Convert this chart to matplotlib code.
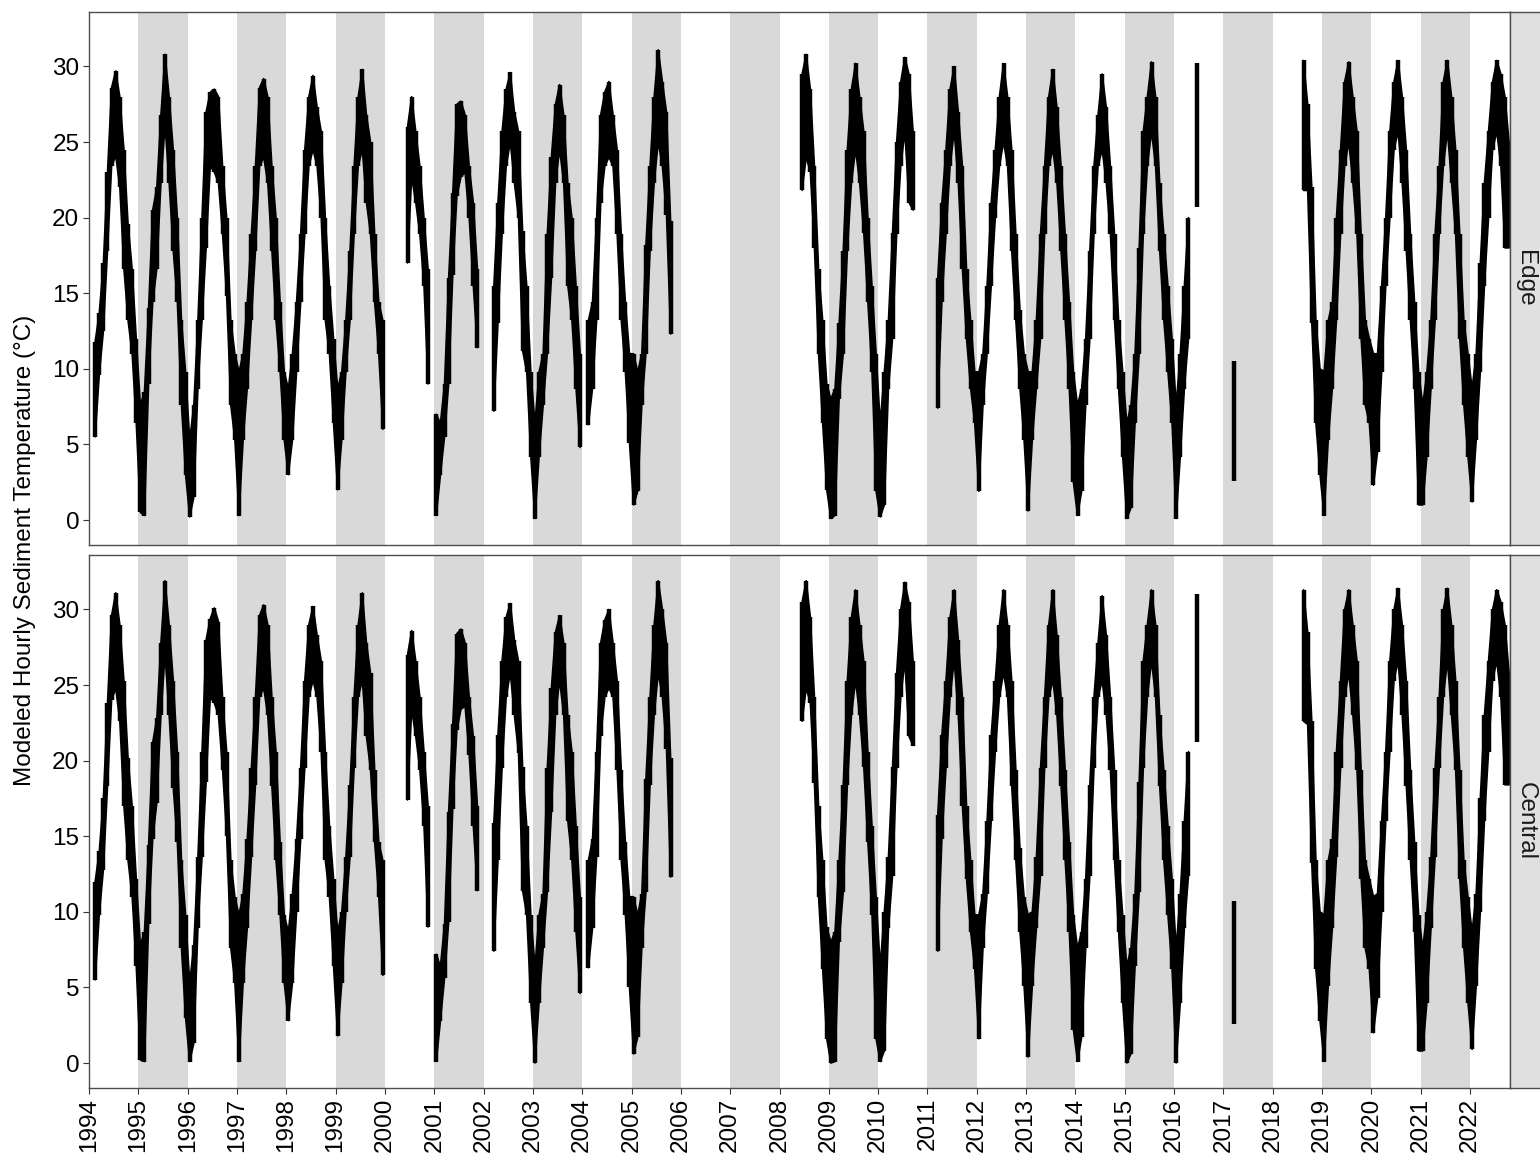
import numpy as np
import matplotlib
matplotlib.use("Agg")
import matplotlib.pyplot as plt

plt.rcParams['font.family'] = ['Liberation Sans', 'DejaVu Sans']

N = None

# years shown and monthly envelope (min / max of the hourly series), Jan..Dec
years = list(range(1994, 2023))
year_ticks = list(range(1994, 2023))
temp_ticks = [0, 5, 10, 15, 20, 25, 30]
sites = ["Edge", "Central"]

edge_lo = [
    [N, 5.5, 9.6, 12.5, 17.8, 23.4, 24.1, 22.0, 16.6, 13.2, 11.0, 6.4],    # 1994
    [0.5, 0.3, 9.0, 14.4, 16.6, 22.3, 26.1, 22.3, 17.8, 14.4, 7.6, 3.0],   # 1995
    [0.2, 1.5, 8.7, 13.2, 18.0, 23.4, 23.0, 22.3, 18.9, 14.8, 7.6, 5.3],   # 1996
    [0.3, 5.3, 8.7, 13.2, 17.8, 23.4, 24.0, 22.3, 17.8, 13.2, 9.8, 5.3],   # 1997
    [3.0, 5.3, 9.8, 14.4, 18.9, 23.4, 24.5, 23.4, 20.0, 13.2, 11.0, 6.4],  # 1998
    [2.0, 5.3, 9.8, 13.2, 18.9, 23.4, 24.5, 21.0, 18.9, 14.4, 11.0, 6.0],  # 1999
    [N, N, N, N, N, 17.0, 22.7, 21.0, 18.9, 15.5, 9.0, N],                 # 2000
    [0.3, 3.0, 5.5, 9.0, 16.2, 21.4, 22.7, 23.0, 20.0, 15.5, 11.4, N],     # 2001
    [N, N, 7.2, 13.0, 18.9, 23.4, 25.0, 22.3, 20.0, 11.2, 9.8, 4.2],       # 2002
    [0.1, 4.2, 7.6, 11.0, 16.0, 22.3, 24.5, 22.3, 15.5, 13.2, 8.7, 4.8],   # 2003
    [N, 6.3, 8.7, 13.2, 21.0, 23.4, 24.0, 23.4, 18.9, 13.2, 9.8, 5.1],     # 2004
    [1.0, 1.9, 7.6, 11.0, 17.8, 22.3, 25.0, 23.4, 20.2, 12.3, N, N],       # 2005
    [N, N, N, N, N, N, N, N, N, N, N, N],                                  # 2006
    [N, N, N, N, N, N, N, N, N, N, N, N],                                  # 2007
    [N, N, N, N, N, 21.8, 24.0, 23.0, 18.0, 11.0, 6.4, 2.0],               # 2008
    [0.1, 0.3, 8.0, 11.0, 17.8, 22.3, 24.5, 22.3, 19.0, 14.4, 9.8, 1.9],   # 2009
    [0.2, 1.0, 8.7, 12.0, 18.9, 23.4, 25.7, 21.0, 20.5, N, N, N],          # 2010
    [N, N, 7.4, 14.4, 18.9, 23.4, 25.7, 22.3, 16.6, 12.0, 8.7, 6.4],       # 2011
    [1.9, 7.6, 11.0, 15.5, 20.0, 23.4, 25.0, 23.4, 17.8, 13.2, 8.7, 5.3],  # 2012
    [0.6, 5.3, 8.7, 12.0, 18.9, 23.4, 24.5, 22.3, 17.8, 13.2, 8.7, 2.5],   # 2013
    [0.3, 1.9, 7.6, 12.0, 18.9, 23.4, 24.5, 22.3, 18.9, 13.2, 8.7, 4.2],   # 2014
    [0.1, 0.8, 6.4, 11.0, 18.9, 23.4, 25.7, 23.4, 17.8, 13.2, 9.8, 6.4],   # 2015
    [0.1, 4.2, 8.7, 12.0, N, 20.7, N, N, N, N, N, N],                      # 2016
    [N, N, 2.6, N, N, N, N, N, N, N, N, N],                                # 2017
    [N, N, N, N, N, N, N, 21.8, 21.8, 13.0, 6.4, 3.0],                     # 2018
    [0.3, 5.3, 8.7, 13.2, 18.9, 23.4, 25.0, 22.3, 18.9, 12.0, 7.6, 6.4],   # 2019
    [2.3, 4.5, 9.8, 15.5, 20.0, 24.5, 25.7, 22.3, 17.8, 13.2, 8.7, 1.0],   # 2020
    [1.0, 4.2, 8.7, 13.2, 18.9, 23.4, 25.7, 22.3, 18.9, 12.0, 7.6, 4.2],   # 2021
    [1.2, 5.3, 9.8, 15.5, 20.0, 24.5, 25.7, 23.4, 18.0, 18.0, N, N],       # 2022
]

edge_hi = [
    [N, 11.8, 13.7, 17.0, 23.0, 28.6, 29.7, 28.0, 24.5, 19.6, 16.6, 12.0],   # 1994
    [7.6, 8.5, 14.0, 20.5, 22.0, 26.8, 30.8, 28.0, 24.5, 20.0, 13.2, 9.8],   # 1995
    [5.3, 7.6, 13.2, 20.0, 27.0, 28.3, 28.5, 28.0, 23.4, 20.0, 13.2, 11.0],  # 1996
    [9.8, 11.0, 14.4, 18.9, 23.4, 28.6, 29.2, 28.0, 23.4, 20.0, 14.4, 9.8],  # 1997
    [8.7, 11.0, 14.4, 18.9, 24.5, 28.0, 29.4, 27.3, 25.7, 20.0, 15.5, 12.0], # 1998
    [8.7, 9.8, 13.2, 17.8, 23.4, 28.0, 29.8, 26.8, 25.0, 18.9, 14.4, 13.2],  # 1999
    [N, N, N, N, N, 26.0, 28.0, 25.7, 23.4, 20.0, 16.6, N],                  # 2000
    [7.0, 6.4, 9.0, 16.0, 21.6, 27.5, 27.7, 26.8, 23.4, 21.0, 16.6, N],      # 2001
    [N, N, 15.5, 21.0, 25.7, 28.5, 29.6, 27.0, 25.7, 19.1, 15.5, 9.8],       # 2002
    [6.4, 9.8, 11.0, 18.9, 24.0, 27.5, 28.8, 26.8, 22.3, 20.0, 15.5, 11.0],  # 2003
    [N, 13.2, 14.4, 20.0, 26.8, 28.3, 29.0, 26.8, 24.5, 18.9, 14.4, 11.0],   # 2004
    [11.0, 9.8, 11.0, 18.2, 23.4, 28.0, 31.1, 29.0, 27.0, 19.8, N, N],       # 2005
    [N, N, N, N, N, N, N, N, N, N, N, N],                                    # 2006
    [N, N, N, N, N, N, N, N, N, N, N, N],                                    # 2007
    [N, N, N, N, N, 29.5, 30.8, 28.5, 23.4, 16.6, 13.2, 9.0],                # 2008
    [8.0, 8.7, 13.0, 17.8, 24.5, 28.5, 30.2, 28.0, 25.7, 20.0, 15.5, 11.0],  # 2009
    [6.4, 9.8, 13.2, 19.0, 25.0, 29.0, 30.6, 29.5, 25.7, N, N, N],           # 2010
    [N, N, 16.0, 21.0, 24.5, 28.5, 30.0, 27.0, 23.4, 16.6, 13.2, 9.8],       # 2011
    [9.8, 11.0, 15.5, 21.0, 24.5, 28.0, 30.2, 28.0, 24.5, 18.9, 13.9, 11.0], # 2012
    [9.8, 9.8, 13.2, 18.9, 23.4, 28.0, 29.8, 27.3, 23.4, 18.9, 14.4, 9.8],   # 2013
    [7.6, 8.7, 12.0, 17.8, 23.4, 26.8, 29.5, 27.3, 23.4, 18.9, 13.2, 9.8],   # 2014
    [6.4, 7.6, 11.0, 18.0, 25.7, 28.0, 30.3, 28.0, 22.3, 18.9, 15.5, 12.0],  # 2015
    [7.6, 11.0, 15.5, 20.0, N, 30.2, N, N, N, N, N, N],                      # 2016
    [N, N, 10.5, N, N, N, N, N, N, N, N, N],                                 # 2017
    [N, N, N, N, N, N, N, 30.4, 27.5, 22.0, 13.2, 10.0],                     # 2018
    [9.8, 13.2, 14.4, 20.0, 24.5, 29.0, 30.3, 28.0, 25.7, 18.9, 13.2, 12.0], # 2019
    [11.0, 11.0, 15.5, 20.0, 25.7, 29.0, 30.4, 28.0, 24.5, 18.9, 14.4, 9.8], # 2020
    [7.6, 9.8, 13.2, 18.9, 23.4, 29.0, 30.4, 28.0, 24.5, 18.9, 13.2, 11.0],  # 2021
    [8.7, 11.0, 17.0, 22.3, 25.7, 29.0, 30.4, 29.5, 28.0, 25.0, N, N],       # 2022
]

central_lo = [
    [N, 5.5, 9.8, 12.8, 18.3, 24.0, 24.8, 22.6, 17.0, 13.4, 11.0, 6.4],     # 1994
    [0.2, 0.1, 9.2, 14.8, 17.2, 23.0, 27.0, 23.0, 18.2, 14.6, 7.6, 3.0],    # 1995
    [0.1, 1.3, 8.9, 13.6, 18.6, 24.2, 23.8, 23.0, 19.4, 15.0, 7.6, 5.3],    # 1996
    [0.1, 5.3, 8.9, 13.6, 18.4, 24.2, 24.8, 23.0, 18.3, 13.4, 9.8, 5.3],    # 1997
    [2.8, 5.3, 10.0, 14.8, 19.5, 24.2, 25.3, 24.2, 20.6, 13.4, 11.0, 6.4],  # 1998
    [1.8, 5.3, 10.0, 13.6, 19.5, 24.2, 25.3, 21.6, 19.4, 14.6, 11.0, 5.8],  # 1999
    [N, N, N, N, N, 17.4, 23.4, 21.6, 19.4, 15.7, 9.0, N],                  # 2000
    [0.1, 2.8, 5.6, 9.3, 16.8, 22.0, 23.4, 23.6, 20.4, 15.7, 11.4, N],      # 2001
    [N, N, 7.4, 13.4, 19.5, 24.2, 25.8, 23.0, 20.5, 11.4, 9.8, 4.0],        # 2002
    [0.0, 4.0, 7.6, 11.3, 16.6, 23.0, 25.3, 23.0, 16.0, 13.4, 8.7, 4.6],    # 2003
    [N, 6.3, 8.9, 13.6, 21.6, 24.2, 24.8, 24.2, 19.4, 13.4, 9.8, 5.0],      # 2004
    [0.6, 1.7, 7.6, 11.3, 18.4, 23.0, 25.8, 24.2, 20.8, 12.3, N, N],        # 2005
    [N, N, N, N, N, N, N, N, N, N, N, N],                                   # 2006
    [N, N, N, N, N, N, N, N, N, N, N, N],                                   # 2007
    [N, N, N, N, N, 22.6, 24.8, 23.8, 18.5, 11.0, 6.2, 1.6],                # 2008
    [0.0, 0.1, 8.0, 11.3, 18.4, 23.0, 25.3, 23.0, 19.6, 14.6, 9.8, 1.6],    # 2009
    [0.1, 0.8, 8.9, 12.4, 19.5, 24.2, 26.6, 21.6, 21.0, N, N, N],           # 2010
    [N, N, 7.4, 14.8, 19.5, 24.2, 26.6, 23.0, 17.0, 12.2, 8.7, 6.2],        # 2011
    [1.6, 7.6, 11.2, 16.0, 20.6, 24.2, 25.8, 24.2, 18.3, 13.4, 8.7, 5.1],   # 2012
    [0.4, 5.1, 8.9, 12.4, 19.5, 24.2, 25.3, 23.0, 18.3, 13.4, 8.7, 2.2],    # 2013
    [0.1, 1.7, 7.6, 12.4, 19.5, 24.2, 25.3, 23.0, 19.4, 13.4, 8.7, 4.0],    # 2014
    [0.0, 0.6, 6.4, 11.3, 19.5, 24.2, 26.6, 24.2, 18.3, 13.4, 9.8, 6.2],    # 2015
    [0.0, 4.0, 8.9, 12.4, N, 21.2, N, N, N, N, N, N],                       # 2016
    [N, N, 2.6, N, N, N, N, N, N, N, N, N],                                 # 2017
    [N, N, N, N, N, N, N, 22.6, 22.4, 13.2, 6.2, 2.8],                      # 2018
    [0.1, 5.1, 8.9, 13.6, 19.5, 24.2, 25.8, 23.0, 19.4, 12.2, 7.6, 6.2],    # 2019
    [2.0, 4.3, 10.0, 16.0, 20.6, 25.3, 26.6, 23.0, 18.3, 13.4, 8.7, 0.8],   # 2020
    [0.8, 4.0, 8.9, 13.6, 19.5, 24.2, 26.6, 23.0, 19.4, 12.2, 7.6, 4.0],    # 2021
    [0.9, 5.1, 10.0, 16.0, 20.6, 25.3, 26.6, 24.2, 18.4, 18.4, N, N],       # 2022
]

central_hi = [
    [N, 12.0, 14.0, 17.5, 23.8, 29.6, 31.1, 29.0, 25.3, 20.2, 17.0, 12.2],   # 1994
    [7.8, 8.7, 14.4, 21.2, 22.8, 27.8, 31.9, 29.0, 25.3, 20.6, 13.4, 9.8],   # 1995
    [5.3, 7.8, 13.6, 20.6, 28.0, 29.4, 30.1, 29.2, 24.2, 20.6, 13.4, 11.0],  # 1996
    [9.8, 11.2, 14.8, 19.5, 24.2, 29.6, 30.3, 29.0, 24.2, 20.6, 14.6, 9.8],  # 1997
    [8.7, 11.2, 14.8, 19.5, 25.3, 29.0, 30.2, 28.3, 26.6, 20.6, 15.7, 12.2], # 1998
    [8.7, 10.0, 13.6, 18.4, 24.2, 29.0, 31.1, 27.8, 25.8, 19.4, 14.6, 13.4], # 1999
    [N, N, N, N, N, 27.0, 28.6, 26.6, 24.2, 20.6, 17.0, N],                  # 2000
    [7.2, 6.4, 9.2, 16.6, 22.4, 28.4, 28.7, 27.8, 24.2, 21.6, 17.0, N],      # 2001
    [N, N, 15.9, 21.7, 26.6, 29.5, 30.4, 28.0, 26.6, 19.6, 15.7, 9.8],       # 2002
    [6.4, 9.8, 11.2, 19.5, 24.8, 28.5, 29.6, 27.8, 23.0, 20.6, 15.7, 11.0],  # 2003
    [N, 13.4, 14.8, 20.6, 27.8, 29.3, 30.0, 27.8, 25.3, 19.4, 14.6, 11.0],   # 2004
    [11.0, 9.8, 11.2, 18.8, 24.2, 29.0, 31.9, 30.0, 27.8, 20.2, N, N],       # 2005
    [N, N, N, N, N, N, N, N, N, N, N, N],                                    # 2006
    [N, N, N, N, N, N, N, N, N, N, N, N],                                    # 2007
    [N, N, N, N, N, 30.5, 31.9, 29.5, 24.2, 17.0, 13.4, 9.0],                # 2008
    [8.0, 8.7, 13.4, 18.4, 25.3, 29.5, 31.3, 29.0, 26.6, 20.6, 15.7, 11.0],  # 2009
    [6.4, 10.0, 13.6, 19.6, 25.8, 30.0, 31.8, 30.5, 26.6, N, N, N],          # 2010
    [N, N, 16.4, 21.7, 25.3, 29.5, 31.3, 28.0, 24.2, 17.0, 13.4, 9.8],       # 2011
    [9.8, 11.2, 16.0, 21.7, 25.3, 29.0, 31.3, 29.0, 25.3, 19.4, 14.2, 11.0], # 2012
    [9.8, 10.0, 13.6, 19.5, 24.2, 29.0, 31.3, 28.3, 24.2, 19.4, 14.6, 9.8],  # 2013
    [7.6, 8.7, 12.2, 18.4, 24.2, 27.8, 30.9, 28.3, 24.2, 19.4, 13.4, 9.8],   # 2014
    [6.4, 7.6, 11.2, 18.6, 26.6, 29.0, 31.3, 29.0, 23.0, 19.4, 15.7, 12.2],  # 2015
    [7.6, 11.2, 16.0, 20.6, N, 31.0, N, N, N, N, N, N],                      # 2016
    [N, N, 10.7, N, N, N, N, N, N, N, N, N],                                 # 2017
    [N, N, N, N, N, N, N, 31.3, 28.5, 22.6, 13.4, 10.0],                     # 2018
    [9.8, 13.4, 14.8, 20.6, 25.3, 30.0, 31.3, 29.0, 26.6, 19.4, 13.4, 12.2], # 2019
    [11.0, 11.2, 16.0, 20.6, 26.6, 30.0, 31.4, 29.0, 25.3, 19.4, 14.6, 9.8], # 2020
    [7.6, 10.0, 13.6, 19.5, 24.2, 30.0, 31.4, 29.0, 25.3, 19.4, 13.4, 11.0], # 2021
    [8.7, 11.2, 17.5, 23.0, 26.6, 30.0, 31.3, 30.5, 29.0, 25.8, N, N],       # 2022
]

# mid-month positions in decimal years
t = (np.array(years)[:, None] + (np.arange(12) + 0.5) / 12.0).ravel()

W, H = 1540, 1160
fig = plt.figure(figsize=(W / 100, H / 100), dpi=100)

panels = [
    (sites[0], edge_lo, edge_hi, 12, 545),
    (sites[1], central_lo, central_hi, 555, 1088),
]
x0, x1 = 89, 1510
strip_w = 31
border = "#4d4d4d"

for i, (name, lo, hi, top, bot) in enumerate(panels):
    ax = fig.add_axes([x0 / W, 1 - bot / H, (x1 - x0) / W, (bot - top) / H])
    lo = np.array(lo, dtype=float).ravel()
    hi = np.array(hi, dtype=float).ravel()

    # alternate-year shading
    for yr in range(1995, 2022, 2):
        ax.axvspan(yr, yr + 1, color="#d9d9d9", lw=0, zorder=0)

    ax.fill_between(t, lo, hi, color="black", lw=1.2, edgecolor="black", zorder=2)
    ok = ~np.isnan(lo)
    ax.vlines(t[ok], lo[ok], hi[ok], color="black", lw=3.2, zorder=2)

    ax.set_xlim(1994, 2022.81)
    ax.set_ylim(-1.65, 33.6)
    ax.set_yticks(temp_ticks)
    ax.set_xticks(year_ticks)
    ax.tick_params(axis="both", length=4, width=0.8, color="#333333",
                   labelsize=17.5, labelcolor="black", pad=3)
    if i == 0:
        ax.tick_params(axis="x", bottom=False, labelbottom=False)
    else:
        ax.set_xticklabels([str(y) for y in year_ticks], rotation=90)
    for s in ax.spines.values():
        s.set_color(border)
        s.set_linewidth(1.0)

    # facet strip on the right
    sax = fig.add_axes([x1 / W, 1 - bot / H, strip_w / W, (bot - top) / H])
    sax.set_facecolor("#e0e0e0")
    sax.set_xticks([])
    sax.set_yticks([])
    for s in sax.spines.values():
        s.set_color(border)
        s.set_linewidth(1.0)
    sax.text(0.5, 0.5, name, rotation=-90, ha="center", va="center",
             fontsize=17.5, color="#1a1a1a", transform=sax.transAxes)

fig.text(25 / W, 1 - 550 / H, "Modeled Hourly Sediment Temperature (°C)",
         rotation=90, ha="center", va="center", fontsize=17.5, color="black")

fig.savefig("out.png", dpi=100)
